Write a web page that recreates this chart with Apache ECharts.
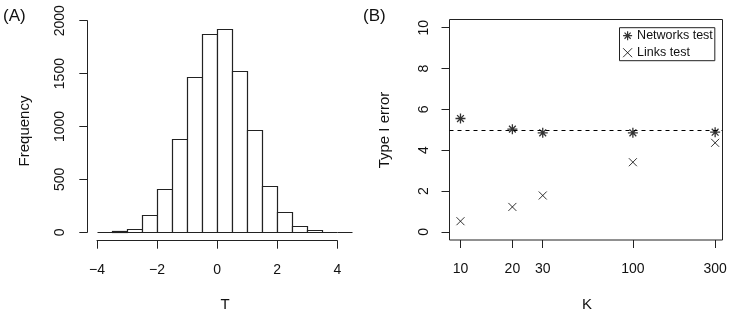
<!DOCTYPE html>
<html>
<head>
<meta charset="utf-8">
<script src="https://cdn.jsdelivr.net/npm/echarts@6/dist/echarts.min.js"></script>
<style>
html,body{margin:0;padding:0;background:#fff;}
#main{width:747px;height:314px;}
</style>
</head>
<body>
<div id="main"></div>
<script>
// Panel A: histogram of T
const breaks = [-4, -3.5, -3, -2.5, -2, -1.5, -1, -0.5, 0, 0.5, 1, 1.5, 2, 2.5, 3, 3.5, 4, 4.5];
const counts = [3, 12, 35, 164, 406, 885, 1465, 1877, 1924, 1524, 967, 438, 189, 60, 22, 3, 1];
const histXTicks = [-4, -2, 0, 2, 4];
const histYTicks = [0, 500, 1000, 1500, 2000];

// Panel B: Type I error vs K
const K = [10, 20, 30, 100, 300];
const networksTest = [5.55, 5.03, 4.85, 4.85, 4.88];
const linksTest = [0.52, 1.22, 1.78, 3.41, 4.36];
const kTicks = [10, 20, 30, 100, 300];
const errTicks = [0, 2, 4, 6, 8, 10];
const nominalLevel = 5;

const FONT = '"Liberation Sans", Arial, Helvetica, sans-serif';
const LINE = '#222';
const TXT = '#111';

const histData = counts.map((c, i) => [breaks[i], breaks[i + 1], c]);

const asterisk = 'path://M5,0L5,10M0,5L10,5M1.6,1.6L8.4,8.4M8.4,1.6L1.6,8.4';
const cross = 'path://M0,0L10,10M10,0L0,10';

const chart = echarts.init(document.getElementById('main'), null, {renderer: 'canvas'});

const option = {
  animation: false,
  backgroundColor: '#fff',
  textStyle: {fontFamily: FONT},
  grid: [
    // 0: histogram bars
    {left: 97, top: 20.7, width: 255, height: 211.6, show: false},
    // 1: histogram axes
    {left: 97, top: 20.7, width: 240.3, height: 211.6, show: false},
    // 2: panel B
    {left: 449.5, top: 19.5, width: 273, height: 220.5, show: true, borderColor: LINE, borderWidth: 1}
  ],
  xAxis: [
    {gridIndex: 0, type: 'value', min: -4, max: 4.5, show: false},
    {gridIndex: 1, type: 'value', min: -4, max: 4, interval: 2, offset: 8.4,
      axisLine: {show: true, onZero: false, lineStyle: {color: LINE}},
      axisTick: {show: true, length: 8, customValues: histXTicks, lineStyle: {color: LINE}},
      axisLabel: {show: true, color: TXT, fontSize: 14, margin: 22, fontFamily: FONT, customValues: histXTicks,
        formatter: v => (v < 0 ? '\u2212' + Math.abs(v) : String(v))},
      splitLine: {show: false}},
    {gridIndex: 2, type: 'log', logBase: 10, min: 8.636, max: 331,
      axisLine: {show: false, onZero: false},
      axisTick: {show: true, length: 8, customValues: kTicks, lineStyle: {color: LINE}},
      axisLabel: {show: true, color: TXT, fontSize: 14, margin: 22, fontFamily: FONT, customValues: kTicks},
      splitLine: {show: false}, minorTick: {show: false}}
  ],
  yAxis: [
    {gridIndex: 0, type: 'value', min: 0, max: 2000, show: false},
    {gridIndex: 1, type: 'value', min: 0, max: 2000, interval: 500, offset: 9.7,
      axisLine: {show: true, onZero: false, lineStyle: {color: LINE}},
      axisTick: {show: true, length: 8, customValues: histYTicks, lineStyle: {color: LINE}},
      axisLabel: {show: true, color: TXT, fontSize: 14, margin: 20, rotate: 90, fontFamily: FONT,
        customValues: histYTicks, formatter: v => String(v)},
      splitLine: {show: false}},
    {gridIndex: 2, type: 'value', min: -0.4, max: 10.4,
      axisLine: {show: false, onZero: false},
      axisTick: {show: true, length: 8, customValues: errTicks, lineStyle: {color: LINE}},
      axisLabel: {show: true, color: TXT, fontSize: 14, margin: 18.5, rotate: 90, fontFamily: FONT,
        customValues: errTicks, formatter: v => String(v)},
      splitLine: {show: false}}
  ],
  legend: {
    orient: 'vertical',
    left: 619.5, top: 27.7,
    padding: [1, 2, 1, 3],
    itemGap: 3,
    itemWidth: 9, itemHeight: 9,
    borderColor: LINE, borderWidth: 1,
    backgroundColor: '#fff',
    selectedMode: false,
    textStyle: {fontSize: 12.5, color: TXT, fontFamily: FONT, lineHeight: 14},
    data: [
      {name: 'Networks test', icon: asterisk, itemStyle: {color: 'rgba(0,0,0,0)', borderColor: '#000', borderWidth: 1.2}},
      {name: 'Links test', icon: cross, itemStyle: {color: 'rgba(0,0,0,0)', borderColor: '#000', borderWidth: 1}}
    ]
  },
  series: [
    {
      type: 'custom',
      xAxisIndex: 0, yAxisIndex: 0,
      data: histData,
      encode: {x: [0, 1], y: 2},
      renderItem: function (params, api) {
        const p0 = api.coord([api.value(0), 0]);
        const p1 = api.coord([api.value(1), api.value(2)]);
        const x0 = Math.round(p0[0]) + 0.5, x1 = Math.round(p1[0]) + 0.5;
        const y0 = Math.round(p0[1]) + 0.5, y1 = Math.round(p1[1]) + 0.5;
        return {
          type: 'rect',
          shape: {x: x0, y: y1, width: x1 - x0, height: y0 - y1},
          style: {fill: '#fff', stroke: LINE, lineWidth: 1.2}
        };
      }
    },
    {
      name: 'Networks test',
      type: 'scatter',
      xAxisIndex: 2, yAxisIndex: 2,
      data: K.map((k, i) => [k, networksTest[i]]),
      symbol: asterisk,
      symbolSize: 10,
      itemStyle: {color: 'rgba(0,0,0,0)', borderColor: '#000', borderWidth: 1.3},
      markLine: {
        silent: true,
        symbol: 'none',
        label: {show: false},
        lineStyle: {type: [4, 4], color: '#000', width: 1},
        data: [{yAxis: nominalLevel}]
      },
      z: 3
    },
    {
      name: 'Links test',
      type: 'scatter',
      xAxisIndex: 2, yAxisIndex: 2,
      data: K.map((k, i) => [k, linksTest[i]]),
      symbol: cross,
      symbolSize: 8,
      itemStyle: {color: 'rgba(0,0,0,0)', borderColor: '#000', borderWidth: 1},
      z: 3
    }
  ],
  graphic: [
    {type: 'text', left: 3, top: 8, style: {text: '(A)', font: '17px ' + FONT, fill: TXT}},
    {type: 'text', left: 363, top: 8, style: {text: '(B)', font: '17px ' + FONT, fill: TXT}},
    {type: 'text', x: 25, y: 131, rotation: Math.PI / 2,
      style: {text: 'Frequency', font: '15px ' + FONT, fill: TXT, align: 'center', verticalAlign: 'middle'}},
    {type: 'text', x: 385, y: 130, rotation: Math.PI / 2,
      style: {text: 'Type I error', font: '15px ' + FONT, fill: TXT, align: 'center', verticalAlign: 'middle'}},
    {type: 'text', x: 225, y: 305, style: {text: 'T', font: '15px ' + FONT, fill: TXT, align: 'center', verticalAlign: 'middle'}},
    {type: 'text', x: 587, y: 305, style: {text: 'K', font: '15px ' + FONT, fill: TXT, align: 'center', verticalAlign: 'middle'}}
  ]
};

chart.setOption(option);
</script>
</body>
</html>
